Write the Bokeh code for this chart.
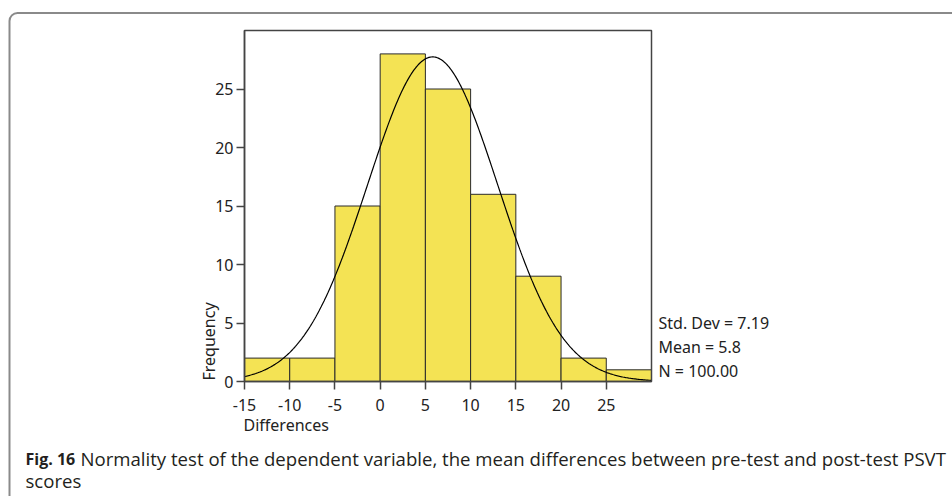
import numpy as np
from bokeh.plotting import figure
from bokeh.models import FixedTicker, LinearAxis, ColumnDataSource
from bokeh.core.properties import value
from bokeh.embed import file_html
from bokeh.resources import INLINE

# ---- data ----
bin_left = [-15, -10, -5, 0, 5, 10, 15, 20, 25]
bin_right = [-10, -5, 0, 5, 10, 15, 20, 25, 30]
counts = [2, 2, 15, 28, 25, 16, 9, 2, 1]
x_ticks = [-15, -10, -5, 0, 5, 10, 15, 20, 25]
x_tick_labels = ["-15", "-10", "-5", "0", "5", "10", "15", "20", "25"]
y_ticks = [0, 5, 10, 15, 20, 25]
y_tick_labels = ["0", "5", "10", "15", "20", "25"]
STD_DEV = 7.19
MEAN = 5.8
N = 100
BIN_WIDTH = 5
stats_lines = ["Std. Dev = 7.19", "Mean = 5.8", "N = 100.00"]
x_label = "Differences"
y_label = "Frequency"
caption_bold = "Fig. 16"
caption_line1 = "Normality test of the dependent variable, the mean differences between pre-test and post-test PSVT"
caption_line2 = "scores"

FONT = "Noto Sans"
CAP_FONT = "Open Sans"

W, H = 952, 496
FL, FR, FT, FB = 244, 651, 30, 381  # histogram box edges in page pixels
X0, X1, Y0, Y1 = -15, 30, 0, 30
SX = (FR - FL) / (X1 - X0)
SY = (FB - FT) / (Y1 - Y0)
FIX = 6  # empirical baseline correction (px)


def px2x(px):
    return X0 + (px - FL) / SX


def py2y(py):
    return Y0 + (FB - py) / SY


p = figure(width=W, height=H, output_backend="svg", toolbar_location=None,
           x_range=(px2x(0), px2x(W)), y_range=(py2y(H), py2y(0)),
           x_axis_location=None, y_axis_location=None,
           min_border=0, min_border_left=0, min_border_right=0, min_border_top=0, min_border_bottom=0)
p.grid.visible = False
p.outline_line_color = None
p.background_fill_color = "white"
p.border_fill_color = "white"

src = ColumnDataSource(dict(left=bin_left, right=bin_right, top=counts, bottom=[0] * len(counts)))
p.quad(left="left", right="right", top="top", bottom="bottom", source=src,
       fill_color="#F4E354", line_color="#2a2a2a", line_width=1)

xs = np.linspace(X0, X1, 400)
ys = N * BIN_WIDTH * np.exp(-0.5 * ((xs - MEAN) / STD_DEV) ** 2) / (STD_DEV * np.sqrt(2 * np.pi))
p.line(xs, ys, line_color="black", line_width=1.2)

# histogram box
p.quad(left=[X0], right=[X1], bottom=[Y0], top=[Y1], fill_color=None, line_color="#444444", line_width=1.5)

xaxis = LinearAxis(fixed_location=Y0, bounds=(X0, X1), ticker=FixedTicker(ticks=x_ticks),
                   major_label_overrides={t: s for t, s in zip(x_ticks, x_tick_labels)},
                   major_label_standoff=9)
yaxis = LinearAxis(fixed_location=X0, bounds=(Y0, Y1), ticker=FixedTicker(ticks=y_ticks),
                   major_label_overrides={t: s for t, s in zip(y_ticks, y_tick_labels)},
                   major_label_standoff=3)
for ax in (xaxis, yaxis):
    ax.axis_line_color = "#444444"
    ax.axis_line_width = 1.5
    ax.major_tick_line_color = "#444444"
    ax.major_tick_line_width = 1.5
    ax.major_tick_out = 8
    ax.major_tick_in = 0
    ax.minor_tick_line_color = None
    ax.major_label_text_font = FONT
    ax.major_label_text_font_size = "16px"
    ax.major_label_text_color = "#222222"
p.add_layout(xaxis, "below")
p.add_layout(yaxis, "left")


def add_text(px, py, text, font=FONT, size="16px", style="normal", color="#222222", rotated=False):
    if rotated:
        px, py, angle = px - FIX, py, np.pi / 2
    else:
        px, py, angle = px, py - FIX, 0.0
    p.text(x=[px2x(px)], y=[py2y(py)], text=[text], angle=angle,
           text_font=value(font), text_font_size=value(size), text_font_style=style, text_color=color,
           text_align="left", text_baseline="alphabetic")


# axis titles
add_text(243, 430, x_label)
add_text(214, 380, y_label, rotated=True)

# stats
for i, s in enumerate(stats_lines):
    add_text(658, 328 + 24 * i, s)

# caption
add_text(25, 464, caption_bold, font=CAP_FONT, size="16px", style="bold", color="#231f20")
add_text(80, 464, caption_line1, font=CAP_FONT, size="18.6px", color="#231f20")
add_text(25, 486, caption_line2, font=CAP_FONT, size="18.6px", color="#231f20")

# outer rounded frame (right and bottom edges lie beyond the page)
p.quad(left=[px2x(9)], right=[px2x(W + 40)], top=[py2y(12.5)], bottom=[py2y(H + 40)],
       fill_color=None, line_color="#8a8a8a", line_width=2, border_radius=8)

open("out.html", "w").write(file_html(p, INLINE))
